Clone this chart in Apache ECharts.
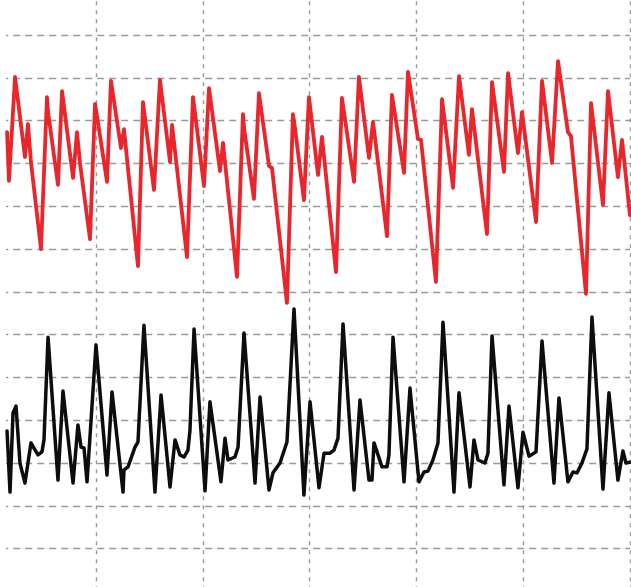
<!DOCTYPE html>
<html>
<head>
<meta charset="utf-8">
<script src="https://cdn.jsdelivr.net/npm/echarts@6/dist/echarts.min.js"></script>
<style>
  html, body { margin: 0; padding: 0; background: #ffffff; }
  #chart { width: 631px; height: 587px; }
</style>
</head>
<body>
<div id="chart"></div>
<script>
// Time (ms) and amplitude (grid divisions)
const redTime = [16.7, 18.5, 24.2, 33.5, 36.3, 39.1, 48.5, 54.1, 55.1, 64.4, 68.2, 78.5, 82.2, 85.0, 94.4, 99.1, 100.9, 110.3, 114.0, 123.4, 126.2, 139.3, 144.0, 154.3, 159.9, 169.3, 171.2, 185.2, 190.8, 192.7, 201.1, 205.8, 216.1, 218.9, 232.0, 237.6, 238.6, 247.9, 252.6, 262.0, 264.8, 278.8, 284.4, 286.3, 294.7, 299.4, 307.9, 311.6, 324.7, 330.3, 341.6, 346.2, 355.6, 359.4, 372.5, 377.1, 388.4, 392.1, 401.5, 404.3, 418.3, 424.0, 434.3, 439.9, 449.2, 452.0, 466.1, 470.8, 482.0, 485.8, 495.1, 498.9, 512.0, 517.6, 527.0, 532.6, 541.9, 544.7, 558.8, 563.5, 574.7, 579.4, 588.7, 592.5, 600.0];
const redValues = [10.73, 9.59, 12.02, 10.15, 10.92, 10.03, 8.00, 11.55, 11.20, 9.50, 11.69, 9.66, 10.73, 10.01, 8.23, 11.39, 11.11, 9.57, 11.93, 10.36, 10.80, 7.60, 11.43, 9.38, 11.95, 10.03, 10.90, 7.81, 11.55, 11.18, 9.47, 11.76, 9.82, 10.48, 7.35, 11.15, 10.83, 9.17, 11.64, 9.94, 9.89, 6.74, 11.15, 10.83, 9.14, 11.55, 9.73, 10.62, 7.46, 11.53, 9.57, 12.02, 10.13, 10.97, 8.30, 11.60, 9.78, 12.14, 10.57, 10.55, 7.23, 11.50, 9.43, 12.04, 10.20, 11.27, 8.35, 11.90, 9.80, 12.11, 10.24, 11.20, 8.63, 11.93, 10.01, 12.39, 10.73, 10.64, 6.95, 11.41, 9.03, 11.69, 9.68, 10.55, 8.79];

const blackTime = [16.7, 19.5, 22.3, 25.1, 28.8, 33.5, 39.1, 41.9, 45.7, 49.4, 51.3, 55.1, 64.4, 69.1, 78.5, 83.1, 86.0, 88.8, 91.6, 100.0, 110.3, 115.0, 125.3, 126.2, 130.0, 136.5, 139.3, 144.9, 155.2, 160.9, 169.3, 174.0, 178.6, 182.4, 186.1, 188.0, 191.8, 202.1, 206.7, 217.0, 220.8, 223.6, 230.1, 233.0, 238.6, 248.9, 253.6, 262.0, 265.7, 272.3, 278.8, 285.4, 294.7, 300.4, 308.8, 313.5, 319.1, 322.8, 326.6, 331.3, 341.6, 347.2, 355.6, 358.4, 360.3, 367.8, 372.5, 374.3, 378.1, 388.4, 394.0, 402.4, 407.1, 410.8, 415.5, 420.2, 424.9, 435.2, 439.9, 450.2, 453.9, 457.7, 464.2, 467.0, 470.8, 482.0, 486.7, 495.1, 499.8, 505.4, 512.0, 517.6, 528.8, 533.5, 541.9, 546.6, 550.4, 555.0, 559.7, 564.4, 574.7, 580.3, 588.7, 593.4, 596.2, 600.0];
const blackValues = [3.75, 2.32, 4.17, 4.33, 3.00, 2.53, 3.47, 3.35, 3.19, 3.26, 3.54, 5.94, 2.60, 4.68, 2.53, 3.89, 3.37, 3.35, 2.56, 5.76, 2.72, 4.66, 2.32, 2.84, 2.91, 3.37, 3.49, 6.22, 2.32, 4.59, 2.44, 3.54, 3.19, 3.14, 3.30, 3.77, 6.13, 2.35, 4.43, 2.56, 3.58, 3.07, 3.14, 3.37, 6.04, 2.53, 4.54, 2.37, 2.77, 3.00, 3.49, 6.60, 2.25, 4.43, 2.42, 3.23, 3.23, 3.30, 3.58, 6.25, 2.37, 4.47, 2.60, 2.60, 3.47, 2.91, 2.91, 3.19, 5.94, 2.56, 4.75, 2.56, 2.79, 2.81, 3.07, 3.47, 6.29, 2.32, 4.64, 2.44, 3.54, 3.07, 3.00, 3.23, 5.97, 2.49, 4.33, 2.42, 3.72, 3.16, 3.26, 5.85, 2.53, 4.52, 2.56, 2.79, 2.77, 3.00, 3.33, 6.41, 2.39, 4.64, 2.60, 3.28, 3.00, 3.02];

// Axis ranges / grid divisions
const xMin = 0, xMax = 600, xStep = 100;
const yMin = 0, yMax = 14, yStep = 1;

const pair = (xs, ys) => xs.map((x, i) => [x, ys[i]]);

const chart = echarts.init(document.getElementById('chart'), null, { renderer: 'canvas' });
chart.setOption({
  animation: false,
  backgroundColor: '#ffffff',
  grid: {
    left: -10.8, top: -7.8, width: 640.8, height: 599.2,
    containLabel: false,
    outerBoundsMode: 'none'
  },
  xAxis: {
    type: 'value', min: xMin, max: xMax, interval: xStep,
    axisLine: { show: false }, axisTick: { show: false }, axisLabel: { show: false },
    splitLine: { show: true, lineStyle: { color: '#9a9a9a', width: 1.4, type: [4, 5] } }
  },
  yAxis: {
    type: 'value', min: yMin, max: yMax, interval: yStep,
    axisLine: { show: false }, axisTick: { show: false }, axisLabel: { show: false },
    splitLine: { show: true, lineStyle: { color: '#9a9a9a', width: 1.4, type: [7, 5] } }
  },
  graphic: [{
    type: 'rect', left: 0, top: 0, z: 1,
    shape: { width: 6, height: 587 },
    style: { fill: '#ffffff' }
  }],
  series: [
    {
      type: 'line', data: pair(redTime, redValues),
      showSymbol: false, symbol: 'none',
      lineStyle: { color: '#e8262b', width: 3.8, join: 'round', cap: 'round' }
    },
    {
      type: 'line', data: pair(blackTime, blackValues),
      showSymbol: false, symbol: 'none',
      lineStyle: { color: '#0d0d0d', width: 3.5, join: 'round', cap: 'round' }
    }
  ]
});
</script>
</body>
</html>
